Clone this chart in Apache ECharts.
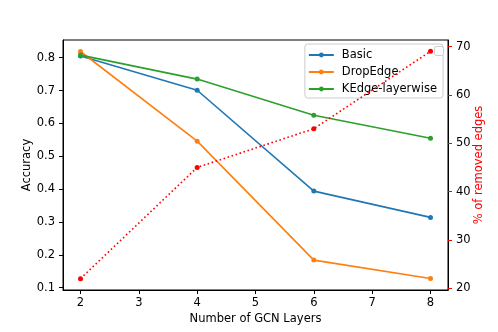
<!DOCTYPE html>
<html><head><meta charset="utf-8">
<script src="https://cdn.jsdelivr.net/npm/echarts@6/dist/echarts.min.js"></script>
<style>html,body{margin:0;padding:0;background:#fff}#c{width:498px;height:332px}</style>
</head><body><div id="c"></div>
<script>
const layers = [2, 4, 6, 8];
const basic = [0.805, 0.701, 0.394, 0.314];
const dropEdge = [0.819, 0.546, 0.184, 0.128];
const kedge = [0.808, 0.735, 0.625, 0.555];
const removed = [22, 45, 53, 69];
const xTicks = [2, 3, 4, 5, 6, 7, 8];
const leftTicks = [0.1, 0.2, 0.3, 0.4, 0.5, 0.6, 0.7, 0.8];
const rightTicks = [20, 30, 40, 50, 60, 70];

const font = 'DejaVu Sans';
const fs = 11.5;
const pairs = arr => layers.map((x, i) => [x, arr[i]]);
const lineSeries = (name, arr, color) => ({
  name, type: 'line', data: pairs(arr), yAxisIndex: 0,
  symbol: 'circle', symbolSize: 5, showSymbol: true,
  lineStyle: { color, width: 1.6 }, itemStyle: { color }, animation: false, z: 3
});
const chart = echarts.init(document.getElementById('c'));
chart.setOption({
  animation: false,
  textStyle: { fontFamily: font },
  grid: { left: 63, right: 50, top: 40, bottom: 42, show: true, borderColor: '#000', borderWidth: 1,
    backgroundColor: 'transparent', containLabel: false, outerBoundsMode: 'none' },
  legend: {
    data: ['Basic', 'DropEdge', 'KEdge-layerwise'],
    orient: 'vertical', right: 55, top: 44,
    itemWidth: 25, itemHeight: 6, itemGap: 5,
    backgroundColor: '#fff', borderColor: '#ccc', borderWidth: 1, borderRadius: 3,
    padding: [5, 6, 3, 3], z: 4,
    textStyle: { fontFamily: font, fontSize: fs, color: '#000', padding: [0, 0, 0, 3] }
  },
  graphic: [{
    type: 'rect', right: 54, top: 46, z: 100,
    shape: { width: 9, height: 9, r: 2 },
    style: { fill: '#fff', stroke: '#ccc', lineWidth: 1 }
  }],
  xAxis: {
    type: 'value', min: 1.7, max: 8.3,
    name: 'Number of GCN Layers', nameLocation: 'middle', nameGap: 23, nameMoveOverlap: false,
    nameTextStyle: { fontFamily: font, fontSize: fs, color: '#000' },
    axisLine: { show: true, lineStyle: { color: '#000', width: 1 } },
    axisTick: { show: true, length: 4, lineStyle: { color: '#000' }, customValues: xTicks },
    axisLabel: { color: '#000', fontSize: fs, fontFamily: font, margin: 7, customValues: xTicks },
    splitLine: { show: false }
  },
  yAxis: [{
    type: 'value', min: 0.093, max: 0.854, position: 'left',
    name: 'Accuracy', nameLocation: 'middle', nameGap: 30, nameRotate: 90, nameMoveOverlap: false,
    nameTextStyle: { fontFamily: font, fontSize: fs, color: '#000' },
    axisLine: { show: true, lineStyle: { color: '#000', width: 1 } },
    axisTick: { show: true, length: 4, lineStyle: { color: '#000' }, customValues: leftTicks },
    axisLabel: { color: '#000', fontSize: fs, fontFamily: font, margin: 8, customValues: leftTicks,
      formatter: v => v.toFixed(1) },
    splitLine: { show: false }
  }, {
    type: 'value', min: 19.65, max: 71.35, position: 'right',
    name: '% of removed edges', nameLocation: 'middle', nameGap: 25, nameRotate: 90, nameMoveOverlap: false,
    nameTextStyle: { fontFamily: font, fontSize: fs, color: '#ff0000' },
    axisLine: { show: true, lineStyle: { color: '#000', width: 1 } },
    axisTick: { show: true, length: 4, lineStyle: { color: '#ff0000', width: 1 }, customValues: rightTicks },
    axisLabel: { color: '#000', fontSize: fs, fontFamily: font, margin: 8, customValues: rightTicks },
    splitLine: { show: false }
  }],
  series: [
    lineSeries('Basic', basic, '#1f77b4'),
    lineSeries('DropEdge', dropEdge, '#ff7f0e'),
    lineSeries('KEdge-layerwise', kedge, '#2ca02c'),
    {
      name: 'removed', type: 'line', yAxisIndex: 1, data: pairs(removed),
      symbol: 'circle', symbolSize: 5,
      lineStyle: { color: '#ff0000', width: 1.6, type: [1.6, 2.6] },
      itemStyle: { color: '#ff0000' }, z: 10
    }
  ]
});
</script></body></html>
